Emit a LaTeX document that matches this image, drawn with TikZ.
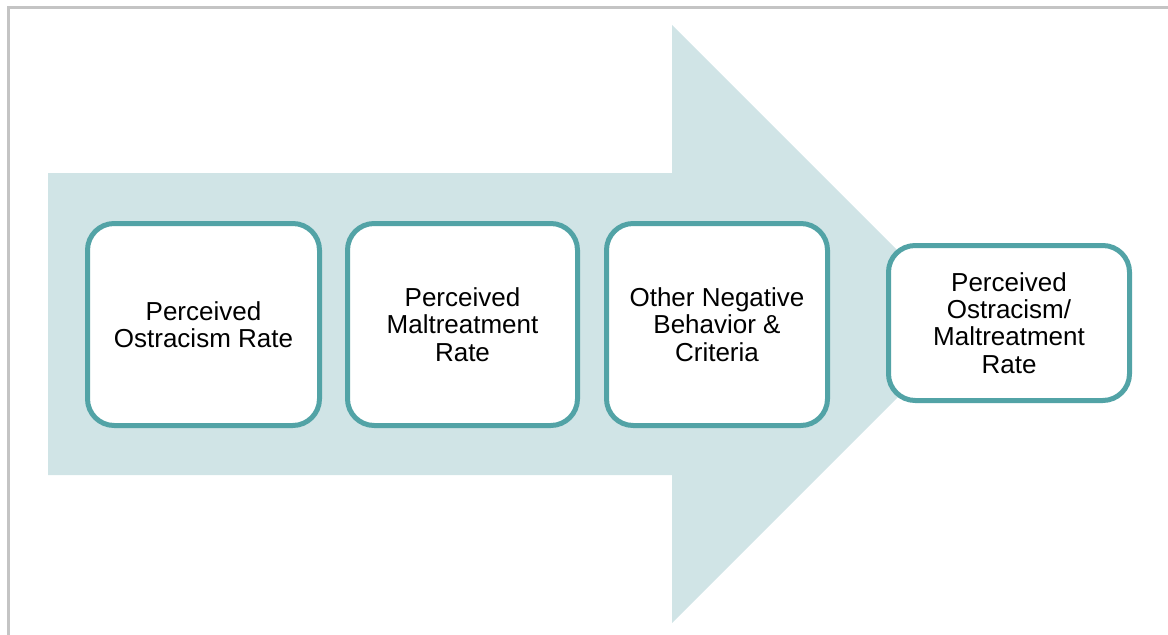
\documentclass[tikz,border=0pt]{standalone}
\usepackage{fontspec}
\setmainfont{Liberation Sans}
\usepackage{xcolor}
\usetikzlibrary{shadows}
\definecolor{tealline}{HTML}{52A3A6}
\definecolor{arrowfill}{HTML}{D0E4E6}
\definecolor{framegray}{HTML}{C4C4C4}

\begin{document}
\begin{tikzpicture}[
  x=0.75pt, y=-0.75pt,
  stage/.style={rectangle, rounded corners=20pt, draw=tealline, line width=3.75pt, fill=white, align=center, inner sep=0pt,
    font=\fontsize{19.5}{20.5}\selectfont,
    drop shadow={opacity=0.25, shadow xshift=0pt, shadow yshift=-1.5pt}},
  bigarrow/.style={fill=arrowfill, draw=none}
]
\useasboundingbox (0,0) rectangle (1168,635);
% frame
\draw[framegray, line width=2pt] (8.5,635) -- (8.5,7.5) -- (1168,7.5);
% background arrow
\fill[bigarrow] (48,173) -- (672,173) -- (672,25) -- (971,324) -- (672,623) -- (672,475) -- (48,475) -- cycle;
% stages
\node[stage, minimum width=174pt, minimum height=151.5pt] (s1) at (203.5,324.5) {Perceived\\Ostracism Rate};
\node[stage, minimum width=172.5pt, minimum height=151.5pt] (s2) at (462.5,324.5) {Perceived\\Maltreatment\\Rate};
\node[stage, minimum width=165.75pt, minimum height=151.5pt] (s3) at (717,324.5) {Other Negative\\Behavior \&\\Criteria};
\node[stage, minimum width=180.75pt, minimum height=116.25pt] (s4) at (1009,323) {Perceived\\Ostracism/\\Maltreatment\\Rate};
\end{tikzpicture}
\end{document}
